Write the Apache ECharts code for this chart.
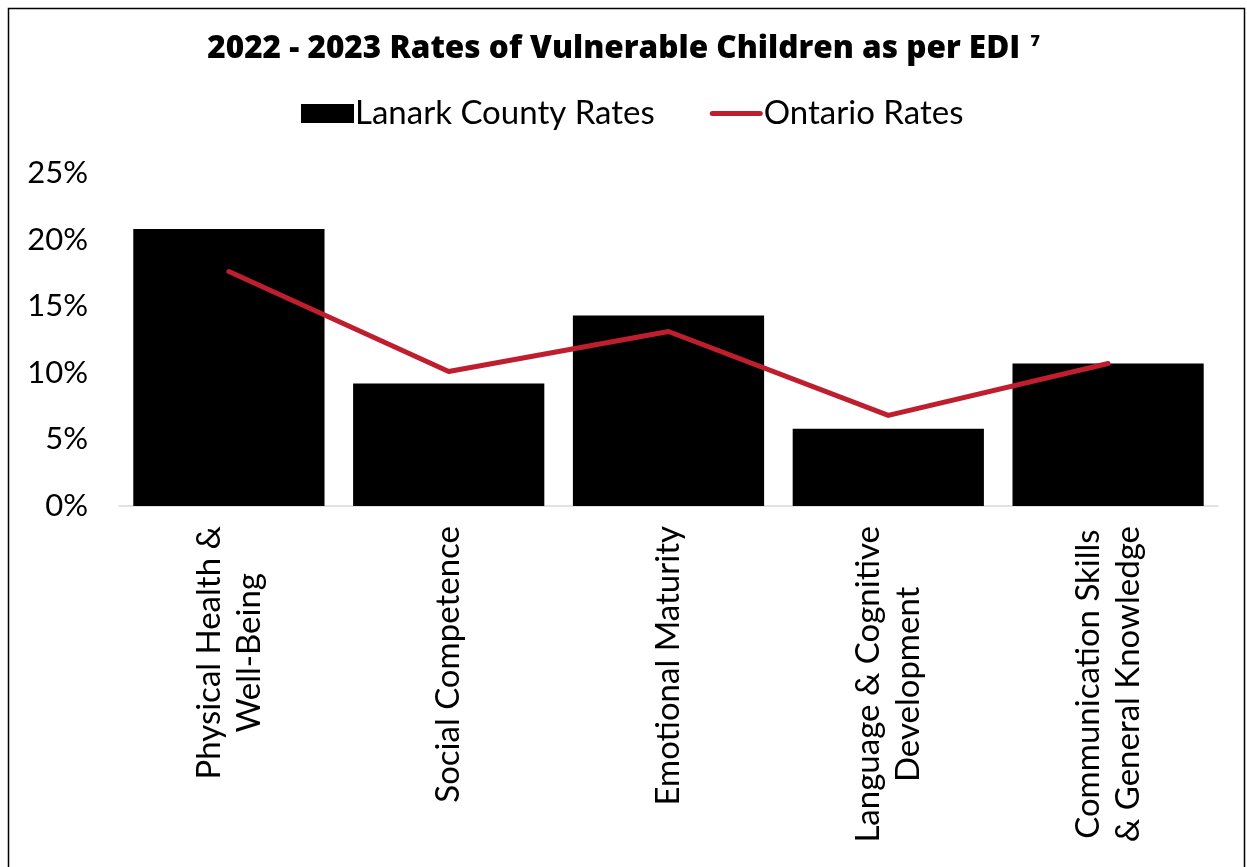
<!DOCTYPE html>
<html>
<head>
<meta charset="utf-8">
<script src="https://cdn.jsdelivr.net/npm/echarts@6/dist/echarts.min.js"></script>
<style>
html,body{margin:0;padding:0;background:#fff;}
#chart{width:1247px;height:867px;}
</style>
</head>
<body>
<div id="chart"></div>
<script>
const categories = [
  'Physical Health &\nWell-Being',
  'Social Competence',
  'Emotional Maturity',
  'Language & Cognitive\nDevelopment',
  'Communication Skills\n& General Knowledge'
];
const lanarkRates = [20.8, 9.2, 14.3, 5.8, 10.7];
const ontarioRates = [17.6, 10.1, 13.1, 6.8, 10.7];
const yTicks = [0, 5, 10, 15, 20, 25];

const chart = echarts.init(document.getElementById('chart'));
const bodyFont = 'Lato, "Noto Sans", sans-serif';
chart.setOption({
  backgroundColor: '#fff',
  animation: false,
  graphic: [{
    type: 'rect',
    shape: { x: 8.5, y: 8.5, width: 1236, height: 900 },
    style: { fill: 'none', stroke: '#000', lineWidth: 1.5 },
    silent: true
  }],
  title: {
    text: '2022 - 2023 Rates of Vulnerable Children as per EDI {sup|7}',
    left: 'center',
    top: 28,
    textStyle: {
      fontFamily: '"Open Sans", Lato, sans-serif',
      fontWeight: 800,
      fontSize: 31.5,
      color: '#000',
      rich: {
        sup: {
          fontFamily: '"Open Sans", Lato, sans-serif',
          fontWeight: 800,
          fontSize: 16,
          verticalAlign: 'top',
          padding: [0, 0, 15, 2],
          color: '#000'
        }
      }
    }
  },
  legend: {
    top: 92,
    left: 296,
    itemGap: 55,
    itemWidth: 53,
    itemHeight: 19,
    textStyle: { fontFamily: bodyFont, fontSize: 33, color: '#000', padding: [0, 0, 0, -4] },
    data: [
      { name: 'Lanark County Rates', icon: 'rect' },
      { name: 'Ontario Rates', icon: 'path://M2.5,0H50.5A2.5,2.5,0,0,1,50.5,5H2.5A2.5,2.5,0,0,1,2.5,0Z' }
    ]
  },
  grid: { left: 119, width: 1099, top: 173, height: 333, containLabel: false },
  xAxis: {
    type: 'category',
    data: categories,
    axisLine: { show: true, lineStyle: { color: '#d9d9d9', width: 1.5 } },
    axisTick: { show: false },
    axisLabel: {
      rotate: 90,
      interval: 0,
      margin: 20,
      fontFamily: bodyFont,
      fontSize: 33,
      color: '#000',
      lineHeight: 40,
      formatter: function (v) {
        return v.split('\n').map(function (s) { return '{c|' + s + '}'; }).join('\n');
      },
      rich: { c: { align: 'center', fontFamily: bodyFont, fontSize: 33, lineHeight: 40, color: '#000' } }
    }
  },
  yAxis: {
    type: 'value',
    min: 0,
    max: 25,
    interval: 5,
    axisLine: { show: false },
    axisTick: { show: false },
    splitLine: { show: false },
    axisLabel: {
      margin: 31,
      fontFamily: bodyFont,
      fontSize: 31,
      color: '#000',
      formatter: function (v) { return yTicks.indexOf(v) >= 0 ? v + '%' : ''; }
    }
  },
  series: [
    {
      name: 'Lanark County Rates',
      type: 'bar',
      data: lanarkRates,
      barCategoryGap: '13%',
      itemStyle: { color: '#000' }
    },
    {
      name: 'Ontario Rates',
      type: 'line',
      data: ontarioRates,
      symbol: 'none',
      lineStyle: { color: '#be1e2d', width: 5, cap: 'round', join: 'round' },
      itemStyle: { color: '#be1e2d' }
    }
  ]
});
</script>
</body>
</html>
